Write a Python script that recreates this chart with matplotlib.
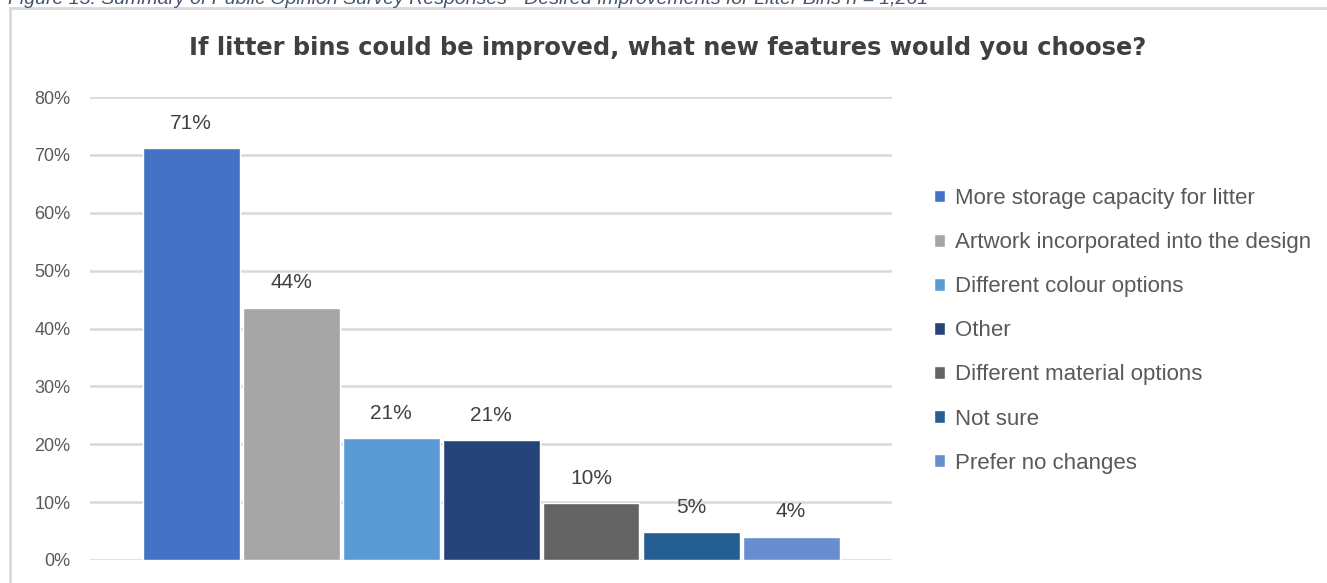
import matplotlib
matplotlib.use("Agg")
import matplotlib.pyplot as plt
from matplotlib.patches import Rectangle

# Survey responses (share of respondents)
categories = [
    "More storage capacity for litter",
    "Artwork incorporated into the design",
    "Different colour options",
    "Other",
    "Different material options",
    "Not sure",
    "Prefer no changes",
]
shares = [0.712, 0.436, 0.210, 0.207, 0.098, 0.048, 0.040]
colors = ["#4472C4", "#A5A5A5", "#5B9BD5", "#264478", "#636363", "#255E91", "#698ED0"]
yticks = [0.0, 0.1, 0.2, 0.3, 0.4, 0.5, 0.6, 0.7, 0.8]

title = "If litter bins could be improved, what new features would you choose?"
caption = ("Figure 13: Summary of Public Opinion Survey Responses - "
           "Desired Improvements for Litter Bins n = 1,261")

W, H = 1327, 583
fig = plt.figure(figsize=(W / 100, H / 100), dpi=100)
fig.patch.set_facecolor("white")

# Chart frame (top edge 8 px below the figure top, running off right and bottom)
frame_top = 1 - 8 / H
fig.patches.append(Rectangle((10 / W, -0.2), 1.2, frame_top + 0.2,
                             transform=fig.transFigure, fill=False,
                             edgecolor="#D9D9D9", linewidth=2.0, zorder=0))

# Caption sitting above the frame
fig.text(8 / W, 1 + 1 / H, caption, ha="left", va="center", fontsize=14,
         style="italic", color="#44546A", family="Liberation Sans")

ax = fig.add_axes([90 / W, 1 - 560 / H, (892 - 90) / W, (560 - 97) / H])
bars = []
for i, (cat, val, col) in enumerate(zip(categories, shares, colors)):
    b = ax.bar(i, val, width=0.97, color=col, edgecolor="white",
               linewidth=1.0, label=cat, zorder=3)
    bars.append(b)
    ax.text(i, val + 0.043, f"{val * 100:.0f}%", ha="center", va="center",
            fontsize=15, color="#404040", family="Liberation Sans")

ax.set_xlim(-1.01, 7.01)
ax.set_ylim(0, 0.8)
ax.set_yticks(yticks)
ax.set_yticklabels([f"{t * 100:.0f}%" for t in yticks],
                   fontsize=13, color="#595959", family="Liberation Sans")
ax.set_xticks([])
ax.tick_params(axis="y", length=0, pad=14)
for s in ax.spines.values():
    s.set_visible(False)
ax.grid(axis="y", color="#D9D9D9", linewidth=1.8, zorder=0)
ax.set_axisbelow(True)

fig.text(668 / W, 1 - 48 / H, title, ha="center", va="center",
         fontsize=17.4, fontweight="bold", color="#404040", family="DejaVu Sans")

leg = fig.legend(handles=[b[0] for b in bars], labels=categories,
                 loc="upper left", bbox_to_anchor=(914 / W, 1 - 168 / H),
                 frameon=False, labelcolor="#595959",
                 handlelength=0.5, handleheight=0.5, handletextpad=0.45,
                 labelspacing=1.04, prop={"family": "Liberation Sans", "size": 16})

fig.savefig("out.png", dpi=100, facecolor="white")
